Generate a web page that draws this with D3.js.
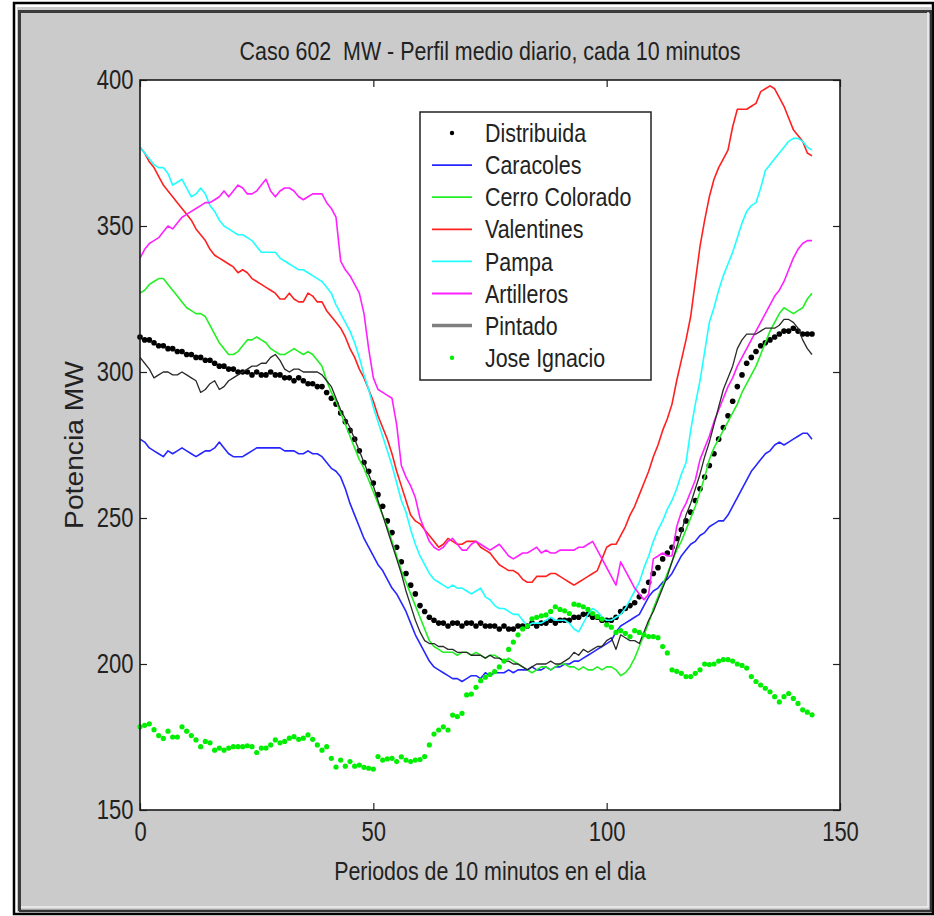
<!DOCTYPE html>
<html>
<head>
<meta charset="utf-8">
<script src="https://cdn.jsdelivr.net/npm/d3@7"></script>
<style>
body { margin: 0; background: #ffffff; }
svg text { font-family: "Liberation Sans", Arial, sans-serif; fill: #222; white-space: pre; }
</style>
</head>
<body>
<div id="chart"></div>
<script>
'use strict';

const titleText = "Caso 602  MW - Perfil medio diario, cada 10 minutos";
const xLabelText = "Periodos de 10 minutos en el dia";
const yLabelText = "Potencia MW";
const xTicks = [0, 50, 100, 150];
const yTicks = [150, 200, 250, 300, 350, 400];

const distribuida = [
	312, 311, 311, 310, 309, 309, 308, 308, 307, 307,
	306, 306, 305, 305, 304, 304, 303, 302, 302, 301,
	301, 300, 300, 300, 299, 300, 299, 299, 300, 299,
	299, 298, 298, 297, 298, 297, 296, 296, 295, 295,
	293, 291, 289, 286, 283, 280, 277, 273, 269, 266,
	262, 258, 254, 249, 245, 240, 235, 231, 227, 224,
	220, 218, 216, 215, 214, 214, 213, 214, 214, 213,
	214, 214, 213, 214, 213, 213, 213, 212, 213, 212,
	212, 213, 213, 213, 214, 213, 214, 214, 215, 214,
	215, 215, 215, 216, 216, 217, 217, 216, 216, 215,
	215, 215, 216, 218, 219, 220, 221, 223, 225, 228,
	231, 233, 236, 238, 240, 243, 246, 249, 252, 256,
	260, 264, 268, 272, 277, 281, 285, 290, 295, 299,
	303, 305, 307, 309, 310, 311, 312, 313, 314, 314,
	315, 314, 313, 313, 313];

const caracoles = [
	277, 276, 274, 273, 272, 271, 273, 272, 273, 274,
	273, 272, 271, 272, 273, 273, 274, 276, 274, 272,
	271, 271, 271, 272, 273, 274, 274, 274, 274, 274,
	274, 273, 273, 273, 272, 272, 273, 272, 272, 271,
	269, 267, 266, 264, 260, 255, 251, 247, 243, 240,
	237, 234, 232, 229, 226, 224, 221, 218, 214, 210,
	207, 204, 201, 199, 198, 197, 196, 195, 195, 194,
	195, 196, 196, 195, 197, 196, 197, 197, 197, 198,
	197, 198, 198, 198, 199, 198, 198, 199, 198, 199,
	199, 200, 200, 201, 201, 202, 203, 204, 205, 206,
	207, 208, 211, 213, 214, 215, 216, 217, 220, 223,
	225, 226, 228, 229, 231, 234, 237, 239, 241, 242,
	244, 245, 247, 248, 249, 249, 251, 254, 257, 260,
	263, 266, 268, 270, 272, 273, 275, 276, 275, 276,
	277, 278, 279, 279, 277];

const cerroColorado = [
	327, 328, 330, 331, 332, 332, 330, 328, 326, 324,
	322, 321, 320, 320, 319, 316, 313, 310, 308, 306,
	306, 307, 309, 311, 311, 312, 311, 310, 308, 307,
	306, 306, 307, 308, 307, 306, 307, 306, 304, 302,
	297, 293, 290, 286, 282, 278, 274, 270, 267, 263,
	259, 255, 251, 247, 242, 237, 232, 228, 224, 220,
	216, 212, 208, 206, 205, 204, 204, 204, 203, 204,
	204, 203, 204, 203, 202, 203, 203, 202, 201, 202,
	201, 200, 199, 198, 197, 198, 199, 199, 198, 199,
	200, 200, 199, 199, 198, 199, 198, 198, 199, 198,
	199, 199, 198, 196, 197, 199, 202, 206, 210, 214,
	219, 223, 227, 231, 235, 239, 242, 246, 250, 254,
	259, 264, 270, 274, 277, 280, 283, 286, 289, 293,
	296, 299, 302, 306, 310, 314, 317, 320, 322, 321,
	320, 321, 322, 325, 327];

const valentines = [
	377, 375, 372, 370, 367, 364, 362, 360, 358, 356,
	354, 352, 349, 347, 345, 342, 340, 339, 338, 337,
	336, 334, 335, 334, 332, 331, 330, 329, 328, 327,
	325, 325, 327, 325, 324, 324, 327, 326, 324, 324,
	321, 319, 317, 315, 312, 308, 305, 301, 298, 294,
	290, 285, 281, 277, 272, 266, 261, 256, 251, 249,
	248, 246, 244, 242, 240, 241, 243, 242, 241, 241,
	242, 242, 242, 240, 239, 238, 236, 234, 233, 232,
	232, 231, 229, 228, 228, 230, 230, 230, 231, 231,
	230, 229, 228, 227, 228, 229, 230, 231, 232, 236,
	240, 241, 241, 244, 247, 251, 254, 258, 262, 266,
	271, 275, 280, 284, 289, 297, 304, 311, 319, 331,
	343, 352, 360, 366, 370, 373, 376, 384, 390, 390,
	390, 391, 392, 396, 397, 398, 397, 394, 391, 387,
	383, 381, 379, 375, 374];

const pampa = [
	377, 375, 373, 371, 370, 370, 368, 364, 365, 366,
	363, 360, 361, 363, 361, 357, 355, 352, 350, 349,
	348, 347, 347, 346, 345, 343, 341, 341, 341, 341,
	339, 338, 337, 336, 335, 335, 334, 333, 332, 331,
	329, 327, 323, 320, 317, 314, 310, 305, 299, 294,
	288, 283, 278, 273, 268, 262, 256, 252, 246, 241,
	237, 234, 231, 229, 228, 227, 226, 227, 226, 226,
	225, 224, 225, 226, 223, 222, 220, 219, 219, 218,
	217, 217, 215, 213, 214, 214, 214, 215, 216, 215,
	215, 215, 214, 212, 211, 214, 217, 219, 218, 216,
	215, 215, 216, 217, 219, 222, 225, 228, 233, 237,
	242, 246, 249, 253, 256, 260, 265, 269, 280, 289,
	297, 307, 317, 322, 328, 333, 337, 341, 346, 351,
	355, 357, 358, 363, 369, 371, 373, 375, 377, 379,
	380, 380, 379, 377, 376];

const artilleros = [
	339, 342, 344, 345, 346, 348, 350, 349, 351, 353,
	354, 355, 356, 357, 358, 358, 359, 360, 362, 360,
	362, 364, 363, 361, 361, 362, 364, 366, 362, 360,
	362, 363, 363, 362, 360, 359, 360, 361, 361, 361,
	358, 356, 353, 338, 335, 333, 330, 327, 320, 308,
	298, 294, 293, 292, 291, 282, 268, 264, 261, 257,
	250, 246, 242, 240, 239, 240, 242, 243, 241, 239,
	239, 241, 242, 241, 240, 239, 240, 241, 239, 237,
	236, 237, 238, 238, 239, 240, 238, 239, 238, 238,
	239, 239, 239, 239, 240, 240, 241, 242, 239, 236,
	233, 230, 227, 235, 232, 229, 226, 224, 222, 224,
	236, 237, 238, 237, 237, 247, 252, 255, 259, 263,
	270, 274, 278, 283, 287, 291, 295, 298, 302, 305,
	308, 311, 314, 317, 320, 323, 326, 328, 331, 335,
	339, 342, 344, 345, 345];

const pintado = [
	305, 303, 301, 298, 299, 300, 300, 299, 299, 300,
	299, 298, 297, 293, 294, 296, 297, 294, 295, 297,
	298, 299, 300, 301, 302, 302, 303, 303, 305, 306,
	304, 301, 300, 301, 301, 300, 300, 300, 300, 299,
	297, 295, 291, 287, 284, 281, 277, 273, 269, 265,
	261, 256, 251, 246, 241, 236, 231, 225, 220, 215,
	211, 208, 207, 207, 206, 206, 205, 205, 204, 204,
	204, 203, 203, 203, 202, 203, 202, 202, 201, 201,
	200, 200, 199, 198, 199, 200, 200, 200, 201, 200,
	200, 201, 202, 204, 203, 205, 204, 205, 206, 206,
	208, 209, 205, 210, 209, 208, 208, 207, 211, 215,
	218, 222, 226, 230, 235, 240, 245, 251, 255, 260,
	265, 271, 276, 282, 288, 294, 298, 302, 308, 311,
	313, 313, 313, 314, 315, 315, 315, 316, 318, 318,
	317, 315, 311, 308, 306];

const joseIgnacio = [
	178.5, 179, 179.5, 177.5, 175.5, 174.5, 177, 175, 175, 178.5,
	177, 175.5, 174, 171.7, 173.5, 173, 170.5, 171.2, 170.5, 171.2,
	171.7, 171.7, 171.7, 172, 171.7, 169.7, 171.2, 171.2, 172.3, 174,
	173, 173.5, 174.6, 175.1, 174.2, 174.6, 175.7, 174.2, 172.3, 170.5,
	171.7, 167.7, 164.7, 167.1, 165, 166.6, 165, 165.4, 164.6, 164.3,
	164, 168.3, 167.1, 167.5, 167.7, 166.6, 168.2, 167.1, 166.6, 167.1,
	167.3, 168.3, 172.3, 176, 177.4, 178.5, 177.4, 182.5, 182, 183.1,
	189.4, 189.7, 192, 194.3, 195.5, 196.4, 197.4, 199, 201, 205,
	207.5, 210, 212, 213, 215.5, 216, 216.5, 216.8, 218, 219.6,
	218.7, 218.2, 217.3, 220.5, 220.2, 219.6, 218.7, 217.3, 216.2, 215.4,
	213.4, 212.6, 210.8, 211.4, 210.5, 209.4, 211.4, 210.8, 210, 209.4,
	209.4, 209, 206, 203.8, 198, 197.5, 196.8, 195.7, 195.7, 196.8,
	198, 200, 199.8, 200, 201, 201.5, 201.5, 201, 200, 199.5,
	198.6, 195.7, 194, 192.8, 191.7, 190.5, 188.8, 187, 188.8, 189.9,
	188.2, 186.5, 184.3, 183.5, 182.6];

const seriesNames = ["Distribuida", "Caracoles", "Cerro Colorado", "Valentines",
	"Pampa", "Artilleros", "Pintado", "Jose Ignacio"];
const seriesValues = [distribuida, caracoles, cerroColorado, valentines,
	pampa, artilleros, pintado, joseIgnacio];
const seriesColors = ["#000000", "#2626ff", "#22f022", "#ff2020",
	"#20ffff", "#ff20ff", "#2a2a2a", "#00ee00"];
const seriesMarks = ["dot", "line", "line", "line", "line", "line", "line", "dot"];

const width = 934;
const height = 916;
const plot = { left: 140, right: 840, top: 80, bottom: 810 };

// squeeze horizontal text a bit, the original font is narrow and tall
function squeeze(sel, x, y, sx)
{
	return sel.attr("transform", `translate(${x},${y}) scale(${sx},1)`);
}

function draw()
{
	const svg = d3.select("#chart")
		.append("svg")
			.attr("width", width)
			.attr("height", height);

	// figure frame
	svg.append("rect")
		.attr("x", 14).attr("y", 3)
		.attr("width", 919).attr("height", 911)
		.attr("fill", "none").attr("stroke", "#000").attr("stroke-width", 2.5);
	svg.append("rect")
		.attr("x", 17).attr("y", 7)
		.attr("width", 914).attr("height", 905)
		.attr("fill", "#cbcbcb");
	svg.append("path")
		.attr("d", "M19.5,911 V11.5 H930")
		.attr("fill", "none").attr("stroke", "#3a3a3a").attr("stroke-width", 3);
	svg.append("path")
		.attr("d", "M21,907 H928 V12")
		.attr("fill", "none").attr("stroke", "#efefef").attr("stroke-width", 1.5);
	svg.append("path")
		.attr("d", "M19,911 H931 V10")
		.attr("fill", "none").attr("stroke", "#333").attr("stroke-width", 2.5);

	const x = d3.scaleLinear()
		.domain([0, 150])
		.range([plot.left, plot.right]);

	const y = d3.scaleLinear()
		.domain([150, 400])
		.range([plot.bottom, plot.top]);

	svg.append("rect")
		.attr("x", plot.left).attr("y", plot.top)
		.attr("width", plot.right - plot.left)
		.attr("height", plot.bottom - plot.top)
		.attr("fill", "#ffffff");

	const xAxis = g => g
		.attr("transform", `translate(0,${plot.bottom})`)
		.call(d3.axisBottom(x).tickValues(xTicks).tickSize(-7).tickSizeOuter(0).tickPadding(12))
		.call(g => g.select(".domain").remove());

	const yAxis = g => g
		.attr("transform", `translate(${plot.left},0)`)
		.call(d3.axisLeft(y).tickValues(yTicks).tickSize(-7).tickSizeOuter(0).tickPadding(8))
		.call(g => g.select(".domain").remove());

	const topAxis = g => g
		.attr("transform", `translate(0,${plot.top})`)
		.call(d3.axisTop(x).tickValues(xTicks).tickSize(-7).tickSizeOuter(0).tickFormat(""))
		.call(g => g.select(".domain").remove());

	const rightAxis = g => g
		.attr("transform", `translate(${plot.right},0)`)
		.call(d3.axisRight(y).tickValues(yTicks).tickSize(-7).tickSizeOuter(0).tickFormat(""))
		.call(g => g.select(".domain").remove());

	[xAxis, yAxis, topAxis, rightAxis].forEach(ax => {
		svg.append("g")
			.attr("class", "axis")
			.call(ax)
			.attr("font-size", 27)
			.attr("font-family", "Liberation Sans, Arial, sans-serif")
			.attr("color", "#222");
	});
	svg.selectAll(".axis .tick line").attr("stroke", "#222").attr("stroke-width", 1.2);
	svg.selectAll(".axis .tick text").attr("transform", "scale(0.815,1)");

	const line = d3.line()
		.x((d, i) => x(i))
		.y(d => y(d));

	const marks = svg.append("g").attr("class", "series");

	seriesValues.forEach(function(values, k) {
		if (seriesMarks[k] === "dot") {
			marks.append("g")
					.attr("fill", seriesColors[k])
				.selectAll("circle")
				.data(values)
				.join("circle")
					.attr("cx", (d, i) => x(i))
					.attr("cy", d => y(d))
					.attr("r", k === 0 ? 2.8 : 2.6);
		}
		else {
			marks.append("path")
				.datum(values)
				.attr("fill", "none")
				.attr("stroke", seriesColors[k])
				.attr("stroke-width", k === 6 ? 1.3 : 1.6)
				.attr("stroke-linejoin", "round")
				.attr("d", line);
		}
	});

	// axes box on top
	svg.append("rect")
		.attr("x", plot.left).attr("y", plot.top)
		.attr("width", plot.right - plot.left)
		.attr("height", plot.bottom - plot.top)
		.attr("fill", "none")
		.attr("stroke", "#1a1a1a")
		.attr("stroke-width", 1.6);

	// titles
	squeeze(svg.append("text"), (plot.left + plot.right) / 2, 60, 0.84)
		.attr("text-anchor", "middle")
		.attr("font-size", 25.5)
		.text(titleText);

	squeeze(svg.append("text"), (plot.left + plot.right) / 2, 880, 0.84)
		.attr("text-anchor", "middle")
		.attr("font-size", 25.5)
		.text(xLabelText);

	svg.append("text")
		.attr("transform", `translate(83,${(plot.top + plot.bottom) / 2}) rotate(-90) scale(1.13,1)`)
		.attr("text-anchor", "middle")
		.attr("font-size", 25)
		.text(yLabelText);

	// legend
	const legend = svg.append("g").attr("class", "legend");
	legend.append("rect")
		.attr("x", 420).attr("y", 112)
		.attr("width", 231).attr("height", 268)
		.attr("fill", "#ffffff")
		.attr("stroke", "#222")
		.attr("stroke-width", 1.5);

	const rowY = k => 133 + k * 32.1;

	seriesNames.forEach(function(name, k) {
		if (seriesMarks[k] === "dot") {
			legend.append("circle")
				.attr("cx", 452).attr("cy", rowY(k))
				.attr("r", 2.2)
				.attr("fill", seriesColors[k]);
		}
		else {
			legend.append("line")
				.attr("x1", 432).attr("x2", 472)
				.attr("y1", rowY(k)).attr("y2", rowY(k))
				.attr("stroke", k === 6 ? "#808080" : seriesColors[k])
				.attr("stroke-width", k === 6 ? 3.5 : 1.8);
		}
		squeeze(legend.append("text"), 485, rowY(k), 0.84)
			.attr("dy", "0.36em")
			.attr("font-size", 25.5)
			.text(name);
	});

	console.log(`series=${seriesValues.length} points=${distribuida.length}`);
}

window.onload = draw;
</script>
</body>
</html>
